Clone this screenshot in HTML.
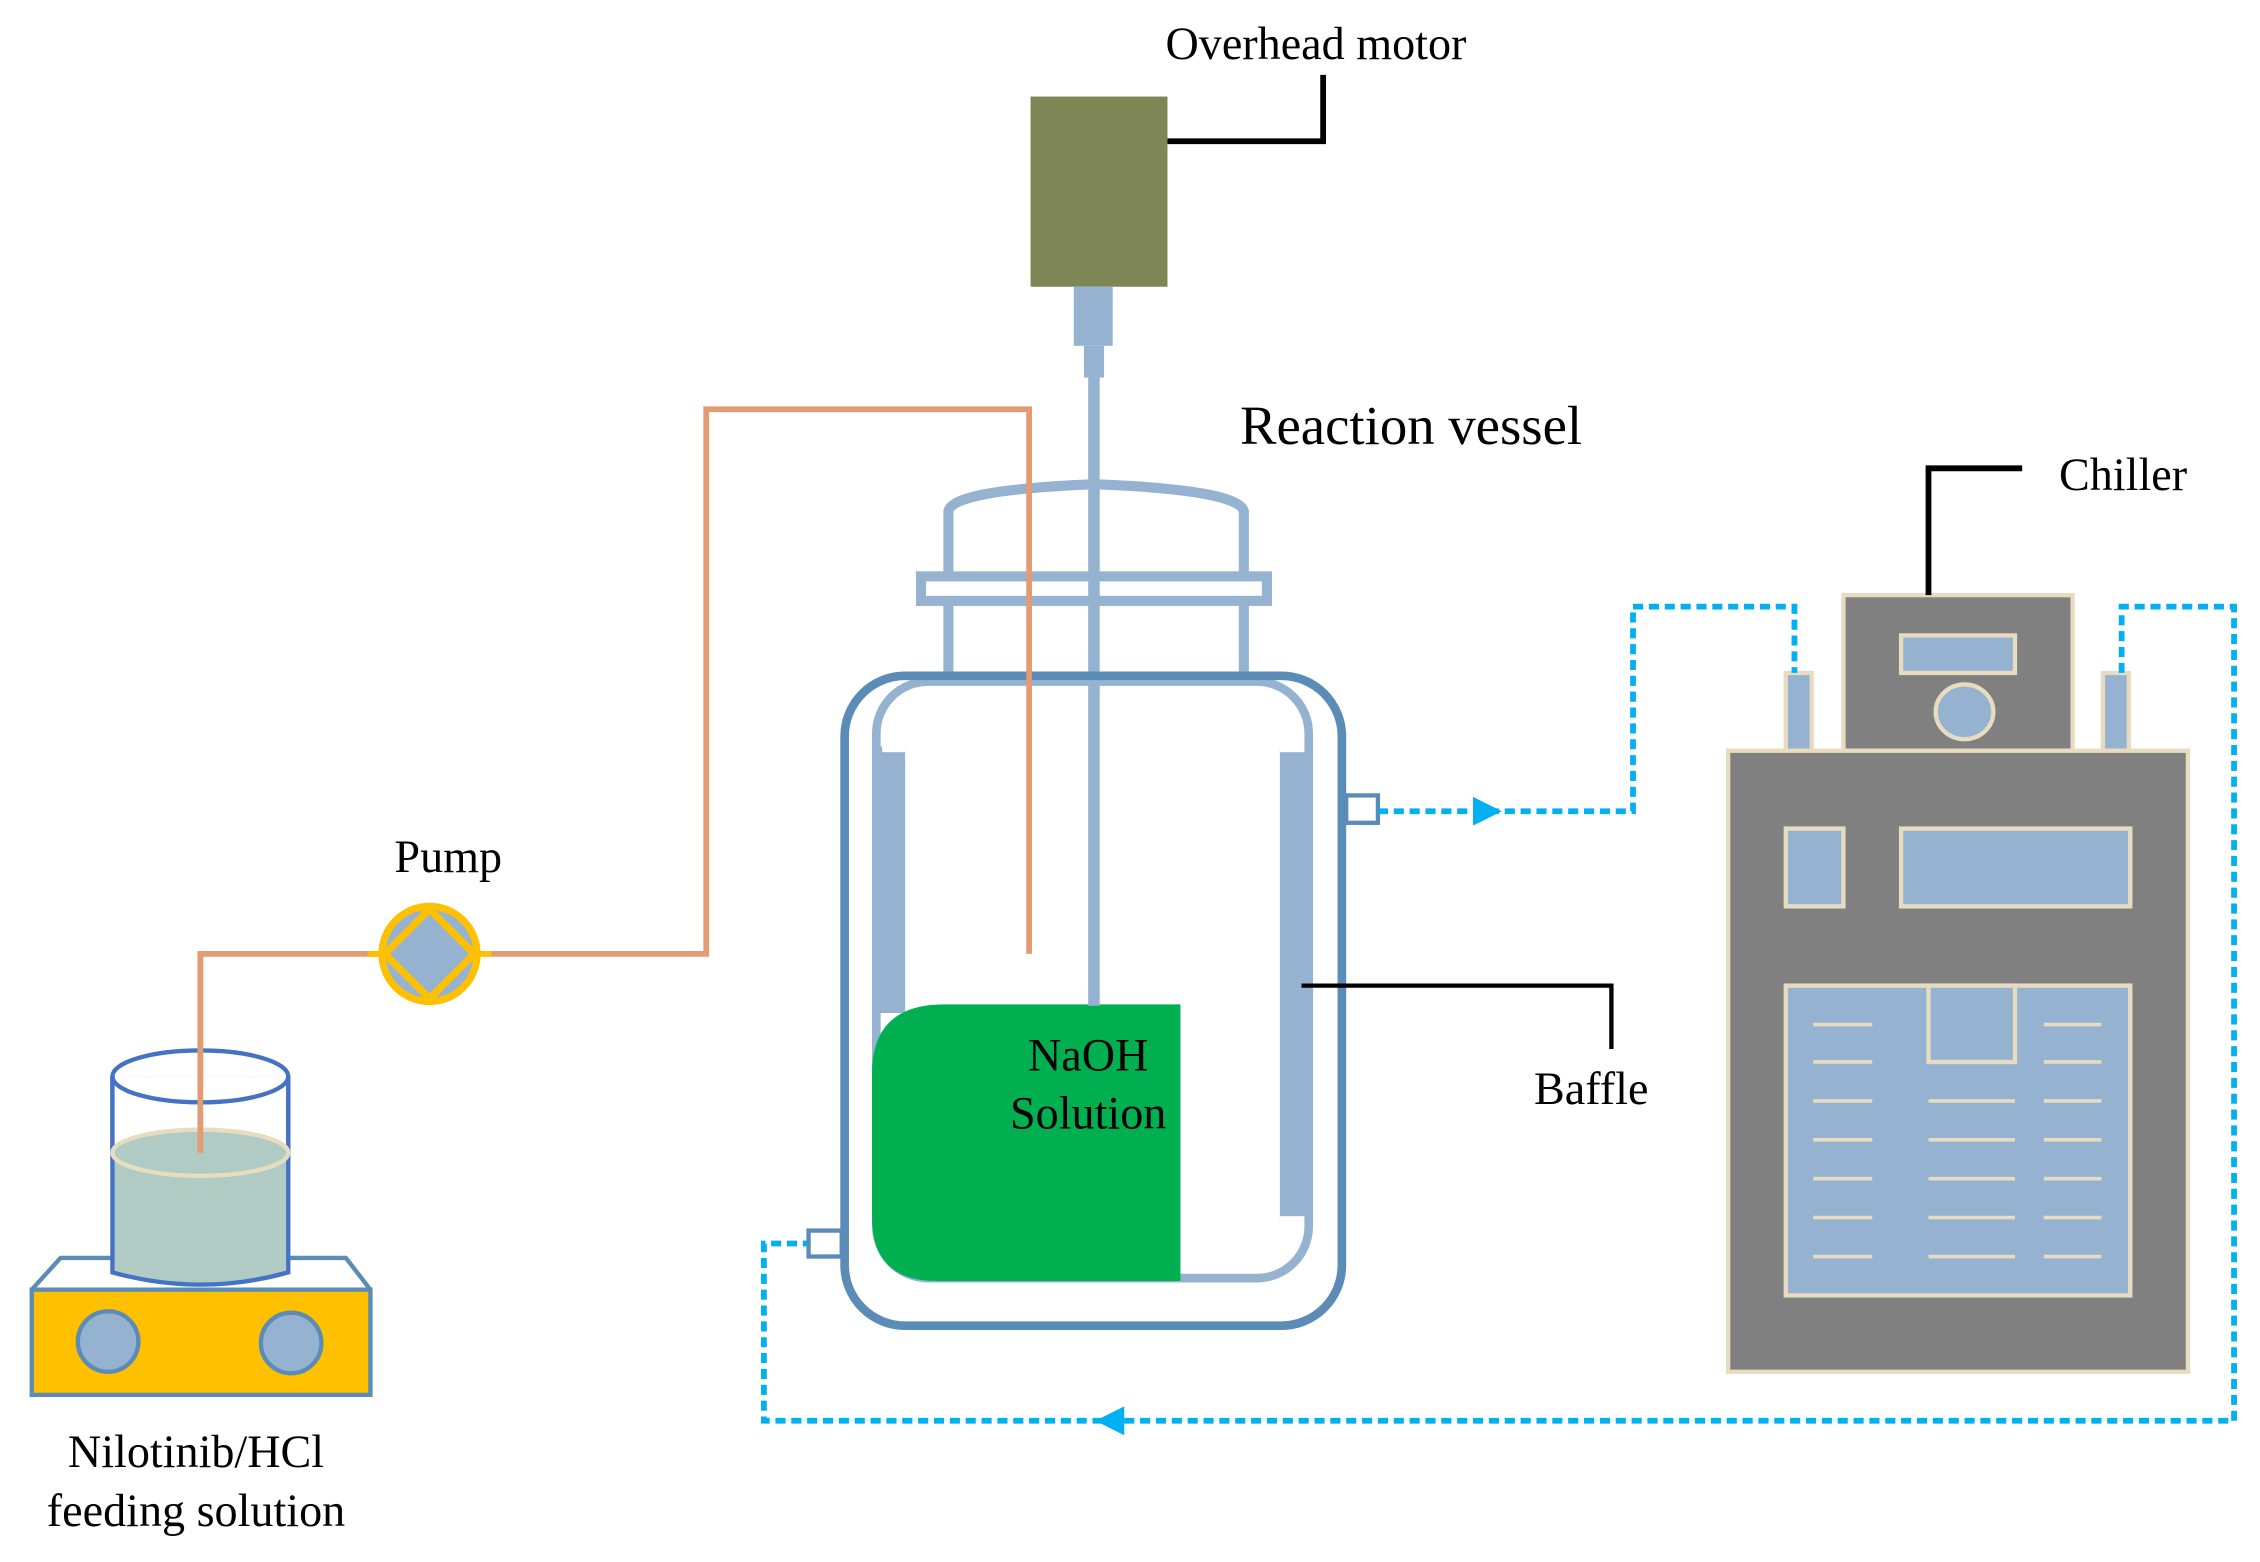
<!DOCTYPE html>
<html><head><meta charset="utf-8"><style>html,body{margin:0;padding:0;background:#fff}svg{display:block}</style></head>
<body>
<svg width="2260" height="1562" viewBox="0 0 1568 1084" preserveAspectRatio="none" xmlns="http://www.w3.org/2000/svg" font-family="Liberation Serif, serif">
<!-- motor -->
<rect x="715" y="67" width="95" height="132" fill="#7f8656"/>
<rect x="745" y="199" width="27" height="41" fill="#95b3d0"/>
<rect x="752" y="240" width="14" height="22" fill="#95b3d0"/>
<polyline points="810,98 918,98 918,52" fill="none" stroke="#000" stroke-width="4"/>
<text x="913" y="41" font-size="32" text-anchor="middle">Overhead motor</text>
<!-- lid -->
<g fill="none" stroke="#95b3d0" stroke-width="7">
<path d="M658,398 V355 Q660,340 760,336 Q860,340 863,355 V398"/>
<rect x="639" y="400" width="240" height="17"/>
<line x1="658" y1="418" x2="658" y2="468"/><line x1="863" y1="418" x2="863" y2="468"/>
</g>
<!-- inner -->
<rect x="608" y="473" width="300" height="414" rx="36" fill="none" stroke="#95b3d0" stroke-width="6"/>
<rect x="605" y="518" width="23" height="185" fill="#95b3d0"/>
<rect x="612" y="516" width="16" height="6" fill="#fff"/>
<rect x="888" y="518" width="22" height="330" fill="#95b3d0"/>
<rect x="888" y="516" width="17" height="6" fill="#fff"/>
<rect x="888" y="844" width="17" height="4" fill="#fff"/>
<path d="M655,697 H819 V889 H650 Q605,889 605,845 V745 Q605,697 655,697 Z" fill="#00b050"/>
<rect x="755" y="262" width="8" height="436" fill="#95b3d0"/>
<text x="755" y="743" font-size="32" text-anchor="middle">NaOH</text>
<text x="755" y="783" font-size="32" text-anchor="middle">Solution</text>
<!-- outer -->
<rect x="586" y="469" width="345" height="451" rx="42" fill="none" stroke="#5b8bb7" stroke-width="6"/>
<rect x="934" y="552" width="22" height="19" fill="#fff" stroke="#5b8bb7" stroke-width="3"/>
<rect x="561" y="854" width="23" height="18" fill="#fff" stroke="#5b8bb7" stroke-width="3"/>
<!-- orange tube -->
<polyline points="714,662 714,284 490,284 490,662 335,662" fill="none" stroke="#e29b72" stroke-width="4"/>
<polyline points="262,662 139,662 139,800" fill="none" stroke="#e29b72" stroke-width="4"/>
<line x1="255" y1="662" x2="341" y2="662" stroke="#ffc000" stroke-width="4"/>
<circle cx="298" cy="662" r="33" fill="#95b3d0" stroke="#ffc000" stroke-width="5"/>
<polygon points="298,631 329,662 298,693 267,662" fill="#95b3d0" stroke="#ffc000" stroke-width="5"/>
<text x="311" y="605" font-size="32" text-anchor="middle">Pump</text>
<!-- hot plate -->
<path d="M22,895 L42,873 H240 L257,895" fill="#fff" stroke="#5b8bb7" stroke-width="3"/>
<rect x="22" y="895" width="235" height="73" fill="#ffc000" stroke="#5b8bb7" stroke-width="3"/>
<circle cx="75" cy="931" r="21" fill="#95b3d0" stroke="#5b8bb7" stroke-width="3"/>
<circle cx="202" cy="932" r="21" fill="#95b3d0" stroke="#5b8bb7" stroke-width="3"/>
<!-- beaker -->
<path d="M78,747 V883 Q139,900 200,883 V747" fill="#b0cbc3" stroke="#4472c4" stroke-width="3"/>
<rect x="79.5" y="747" width="119" height="53" fill="#fff"/>
<ellipse cx="139" cy="747" rx="61" ry="18" fill="none" stroke="#4472c4" stroke-width="3"/>
<line x1="78" y1="747" x2="78" y2="800" stroke="#4472c4" stroke-width="3"/>
<line x1="200" y1="747" x2="200" y2="800" stroke="#4472c4" stroke-width="3"/>
<ellipse cx="139" cy="800" rx="61" ry="16" fill="#b0cbc3" stroke="#e8dcc0" stroke-width="3"/>
<line x1="139" y1="662" x2="139" y2="800" stroke="#e29b72" stroke-width="4"/>
<text x="136" y="1018" font-size="32" text-anchor="middle">Nilotinib/HCl</text>
<text x="136" y="1059" font-size="32" text-anchor="middle">feeding solution</text>
<!-- labels -->
<text x="979" y="308" font-size="38" text-anchor="middle">Reaction vessel</text>
<polyline points="903,684 1118,684 1118,728" fill="none" stroke="#000" stroke-width="3"/>
<text x="1104" y="766" font-size="32" text-anchor="middle">Baffle</text>
<!-- chiller -->
<g stroke="#e8dcc0" stroke-width="3">
<rect x="1279" y="413" width="159" height="108" fill="#808080"/>
<rect x="1319" y="441" width="79" height="26" fill="#95b3d0"/>
<ellipse cx="1363" cy="494" rx="20" ry="19" fill="#95b3d0"/>
<rect x="1239" y="467" width="18" height="54" fill="#95b3d0"/>
<rect x="1459" y="467" width="18" height="54" fill="#95b3d0"/>
<rect x="1199" y="521" width="319" height="431" fill="#808080"/>
<rect x="1239" y="575" width="40" height="54" fill="#95b3d0"/>
<rect x="1319" y="575" width="159" height="54" fill="#95b3d0"/>
<rect x="1239" y="684" width="239" height="215" fill="#95b3d0"/>
<rect x="1338" y="684" width="60" height="53" fill="#95b3d0"/>
<g stroke-width="2.5">
<line x1="1258" y1="711" x2="1299" y2="711"/><line x1="1418" y1="711" x2="1458" y2="711"/>
<line x1="1258" y1="737" x2="1299" y2="737"/><line x1="1418" y1="737" x2="1458" y2="737"/>
<line x1="1258" y1="764" x2="1299" y2="764"/><line x1="1338" y1="764" x2="1398" y2="764"/><line x1="1418" y1="764" x2="1458" y2="764"/>
<line x1="1258" y1="791" x2="1299" y2="791"/><line x1="1338" y1="791" x2="1398" y2="791"/><line x1="1418" y1="791" x2="1458" y2="791"/>
<line x1="1258" y1="818" x2="1299" y2="818"/><line x1="1338" y1="818" x2="1398" y2="818"/><line x1="1418" y1="818" x2="1458" y2="818"/>
<line x1="1258" y1="845" x2="1299" y2="845"/><line x1="1338" y1="845" x2="1398" y2="845"/><line x1="1418" y1="845" x2="1458" y2="845"/>
<line x1="1258" y1="872" x2="1299" y2="872"/><line x1="1338" y1="872" x2="1398" y2="872"/><line x1="1418" y1="872" x2="1458" y2="872"/>
</g>
</g>
<polyline points="1338,413 1338,325 1403,325" fill="none" stroke="#000" stroke-width="4"/>
<text x="1473" y="340" font-size="32" text-anchor="middle">Chiller</text>
<!-- dashed loop -->
<g fill="none" stroke="#00b0f0" stroke-width="4" stroke-dasharray="7,4">
<polyline points="956,563 1133,563 1133,421 1245,421 1245,467"/>
<polyline points="1472,467 1472,421 1550,421 1550,986 530,986 530,863 560,863"/>
</g>
<polygon points="1022,553 1042,563 1022,573" fill="#00b0f0"/>
<polygon points="780,976 760,986 780,996" fill="#00b0f0"/>
</svg>
</body></html>
